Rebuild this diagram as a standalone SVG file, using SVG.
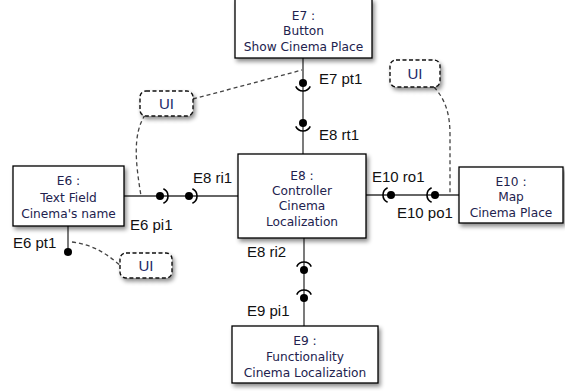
<svg xmlns="http://www.w3.org/2000/svg" width="565" height="391" viewBox="0 0 565 391">
<defs>
<filter id="sh" x="-20%" y="-20%" width="140%" height="150%">
<feDropShadow dx="2" dy="3" stdDeviation="2" flood-color="#000" flood-opacity="0.45"/>
</filter>
<style>
.box{fill:#fff;stroke:#000;stroke-width:1.3;filter:url(#sh)}
.ui{fill:#fff;stroke:#111;stroke-width:1.4;stroke-dasharray:4 2.5;filter:url(#sh)}
.bt{font-family:"DejaVu Sans",sans-serif;font-size:12.2px;fill:#22224e;text-anchor:middle}
.ut{font-family:"Liberation Sans",Arial,sans-serif;font-size:15px;fill:#1c2a6a;text-anchor:middle}
.lb{font-family:"Liberation Sans",Arial,sans-serif;font-size:15px;fill:#111}
.ln{fill:none;stroke:#333;stroke-width:1.3}
.dl{fill:none;stroke:#444;stroke-width:1.3;stroke-dasharray:4 3}
.ball{fill:#000}
.sock{fill:none;stroke:#000;stroke-width:1.6}
</style>
</defs>

<g id="connectors">
<!-- E7 - E8 -->
<line class="ln" x1="303" y1="58" x2="303" y2="154"/>
<circle class="ball" cx="303" cy="83" r="4"/>
<path class="sock" d="M295.75,86.4 A8,8 0 0 0 310.25,86.4"/>
<circle class="ball" cx="303" cy="123" r="4"/>
<path class="sock" d="M295.75,126.4 A8,8 0 0 0 310.25,126.4"/>
<!-- E6 - E8 -->
<line class="ln" x1="124" y1="196" x2="238" y2="196"/>
<circle class="ball" cx="160" cy="196" r="4"/>
<path class="sock" d="M163.4,188.75 A8,8 0 0 1 163.4,203.25"/>
<circle class="ball" cx="189" cy="196" r="4"/>
<path class="sock" d="M192.4,188.75 A8,8 0 0 1 192.4,203.25"/>
<!-- E8 - E10 -->
<line class="ln" x1="366" y1="195" x2="459" y2="195"/>
<circle class="ball" cx="391" cy="195" r="4"/>
<path class="sock" d="M387.6,187.75 A8,8 0 0 0 387.6,202.25"/>
<circle class="ball" cx="435" cy="195" r="4"/>
<path class="sock" d="M431.6,187.75 A8,8 0 0 0 431.6,202.25"/>
<!-- E8 - E9 -->
<line class="ln" x1="304" y1="238" x2="304" y2="326"/>
<circle class="ball" cx="304" cy="270" r="4"/>
<path class="sock" d="M296.75,266.6 A8,8 0 0 1 311.25,266.6"/>
<circle class="ball" cx="304" cy="298" r="4"/>
<path class="sock" d="M296.75,294.6 A8,8 0 0 1 311.25,294.6"/>
<!-- E6 pt1 -->
<line class="ln" x1="68" y1="226" x2="68" y2="252"/>
<circle class="ball" cx="68" cy="252" r="4"/>
<!-- dashed UI links -->
<line class="dl" x1="193" y1="99" x2="302" y2="70"/>
<path class="dl" d="M145,115 C132,135 136,165 141,196"/>
<path class="dl" d="M72,242 C95,245 108,255 121,266"/>
<path class="dl" d="M434,87 C446,100 450,115 450,135 L450,195"/>
</g>

<g id="E7">
<rect class="box" x="235" y="-1" width="137" height="59"/>
<text class="bt" x="303.5" y="19.5">E7 :</text>
<text class="bt" x="303.5" y="35">Button</text>
<text class="bt" x="303.5" y="51">Show Cinema Place</text>
</g>

<g id="E8">
<rect class="box" x="238" y="154" width="128" height="84"/>
<text class="bt" x="302" y="179.5">E8 :</text>
<text class="bt" x="302" y="194.5">Controller</text>
<text class="bt" x="302" y="210">Cinema</text>
<text class="bt" x="302" y="225.5">Localization</text>
</g>

<g id="E6">
<rect class="box" x="13" y="166" width="111" height="60"/>
<text class="bt" x="68.5" y="184.5">E6 :</text>
<text class="bt" x="68.5" y="201.5">Text Field</text>
<text class="bt" x="68.5" y="217.5">Cinema's name</text>
</g>

<g id="E10">
<rect class="box" x="459" y="167" width="104" height="56"/>
<text class="bt" x="511" y="185.5">E10 :</text>
<text class="bt" x="511" y="201">Map</text>
<text class="bt" x="511" y="217">Cinema Place</text>
</g>

<g id="E9">
<rect class="box" x="232" y="326" width="146" height="57"/>
<text class="bt" x="305" y="344.5">E9 :</text>
<text class="bt" x="305" y="360.5">Functionality</text>
<text class="bt" x="305" y="376.5">Cinema Localization</text>
</g>

<g id="UI1">
<rect class="ui" x="140" y="91" width="53" height="25" rx="6"/>
<text class="ut" x="166.5" y="108.5">UI</text>
</g>
<g id="UI2">
<rect class="ui" x="120" y="253" width="52" height="25" rx="6"/>
<text class="ut" x="146" y="270.5">UI</text>
</g>
<g id="UI3">
<rect class="ui" x="390" y="60" width="50" height="27" rx="6"/>
<text class="ut" x="415" y="78.5">UI</text>
</g>

<g id="labels">
<text class="lb" x="319" y="83.5">E7 pt1</text>
<text class="lb" x="319" y="140">E8 rt1</text>
<text class="lb" x="193" y="183">E8 ri1</text>
<text class="lb" x="130" y="230">E6 pi1</text>
<text class="lb" x="13" y="248">E6 pt1</text>
<text class="lb" x="372" y="182">E10 ro1</text>
<text class="lb" x="397" y="218">E10 po1</text>
<text class="lb" x="247" y="257">E8 ri2</text>
<text class="lb" x="247" y="316">E9 pi1</text>
</g>
</svg>
